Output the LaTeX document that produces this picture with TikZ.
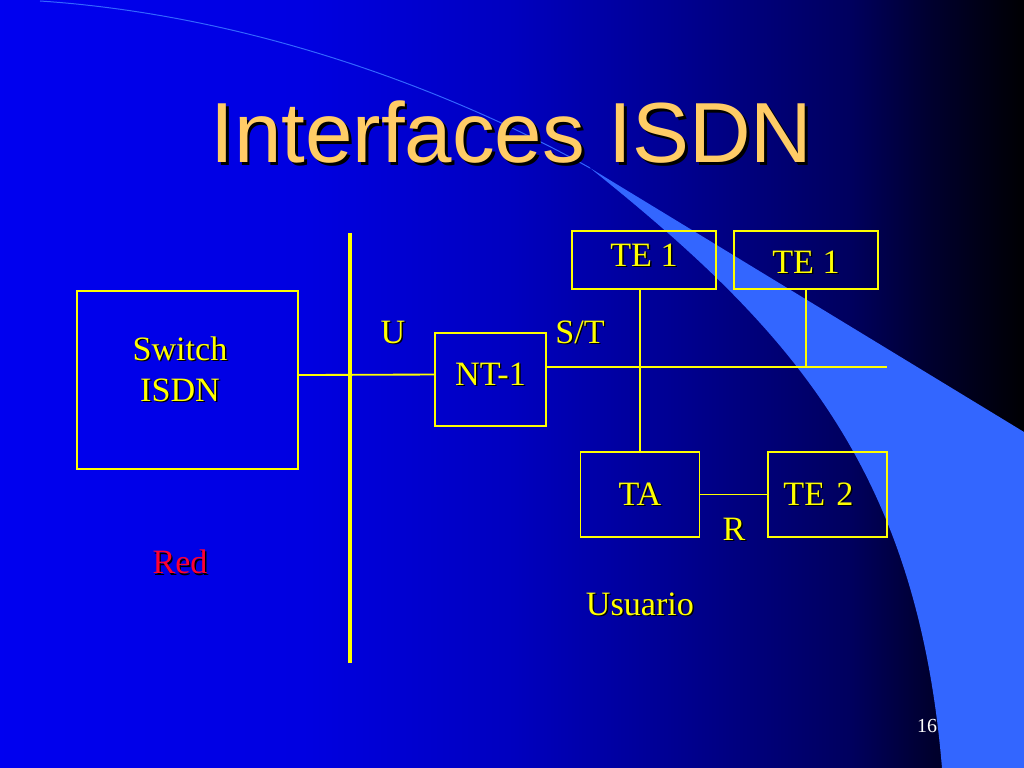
\documentclass[tikz,border=0pt]{standalone}
\usepackage{fontspec}
\setmainfont{Liberation Serif}
\newfontfamily\titlefont{Liberation Sans}
\definecolor{slideyellow}{RGB}{255,255,0}
\definecolor{titlegold}{RGB}{255,204,102}
\definecolor{swooshblue}{RGB}{51,102,255}
\definecolor{redlabel}{RGB}{255,0,51}
\pgfdeclarehorizontalshading{slidebg}{100bp}{rgb(0bp)=(0,0,0.94); rgb(25bp)=(0,0,0.94); rgb(40bp)=(0,0,0.88); rgb(50bp)=(0,0,0.75); rgb(57.5bp)=(0,0,0.58); rgb(66.5bp)=(0,0,0.37); rgb(70.5bp)=(0,0,0.18); rgb(75bp)=(0,0,0.01); rgb(100bp)=(0,0,0.01)}
\newcommand{\shadowed}[2][1pt]{\leavevmode\rlap{\kern#1\raisebox{-#1}{\color{black}#2}}#2}
\tikzset{
  unitbox/.style={draw=slideyellow, line width=1.3pt, inner sep=0pt, text=slideyellow, font=\fontsize{24}{28.8}\selectfont},
  lbl/.style={text=slideyellow, inner sep=0pt, font=\fontsize{24}{28.8}\selectfont},
  wire/.style={draw=slideyellow, line width=1.3pt}
}
\begin{document}
\begin{tikzpicture}[x=0.703125pt, y=-0.703125pt]
% Draw background
\useasboundingbox (0,0) rectangle (1024,768);
\shade[shading=slidebg] (0,0) rectangle (1024,768);
% Draw swoosh
\fill[swooshblue] (590,168) -- (1024,432) -- (1024,768) -- (942,768) .. controls (917,468) and (790,328) .. (590,168) -- cycle;
\draw[swooshblue, line width=0.7pt] (590,168) .. controls (450,90) and (250,15) .. (40,1);
% Draw title
\node[anchor=base, inner sep=0pt, text=titlegold, font=\titlefont\fontsize{60}{72}\selectfont] (title) at (511.5,163) {\shadowed[2pt]{Interfaces ISDN}};
% Draw separator
\draw[slideyellow, line width=2.2pt] (350,233) -- (350,663);
% Draw boxes
\node[unitbox, minimum width=155.4pt, minimum height=125.2pt] (switch) at (187.5,380) {};
\node[lbl, align=center] (switchtxt) at (180,370) {\shadowed{Switch}\\\shadowed{ISDN}};
\node[unitbox, minimum width=78pt, minimum height=65.4pt, text depth=8pt] (nt1) at (490.5,379.5) {\shadowed{NT-1}};
\node[unitbox, minimum width=101.25pt, minimum height=40.8pt, text depth=7pt] (te1a) at (644,260) {\shadowed{TE 1}};
\node[unitbox, minimum width=101.25pt, minimum height=40.8pt, text height=20pt] (te1b) at (806,260) {\shadowed{TE 1}};
\node[unitbox, minimum width=83.7pt, minimum height=59.8pt] (ta) at (640,494.5) {\shadowed{TA}};
\node[unitbox, minimum width=83.7pt, minimum height=59.8pt, text width=62pt] (te2) at (827.5,494.5) {\shadowed{TE 2}};
% Draw connections
\coordinate (busend) at (887,367);
\draw[wire] ([yshift=3.5pt]switch.east) -- ([yshift=3.5pt]nt1.west);
\draw[wire] (nt1.east |- busend) -- (busend);
\draw[wire] (ta.north) -- (ta.north |- te1a.south);
\draw[wire] (te1b.south) -- (te1b.south |- busend);
\draw[wire] (ta.east) -- (te2.west);
% Draw labels
\node[lbl] (ulbl) at (393,333) {\shadowed{U}};
\node[lbl] (stlbl) at (580,333) {\shadowed{S/T}};
\node[lbl] (rlbl) at (734,530) {\shadowed{R}};
\node[lbl, text=redlabel] (redlbl) at (180,563) {\shadowed{Red}};
\node[lbl] (userlbl) at (640,605) {\shadowed{Usuario}};
\node[inner sep=0pt, text=white, font=\fontsize{14}{16.8}\selectfont] (pagenum) at (927,726) {16};
\end{tikzpicture}
\end{document}
